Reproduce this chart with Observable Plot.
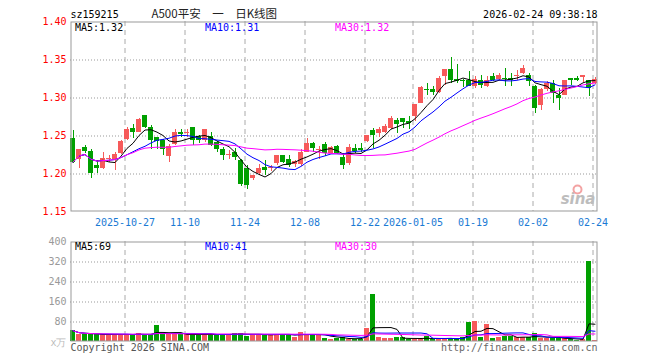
<!DOCTYPE html>
<html><head><meta charset="utf-8">
<script src="https://cdn.jsdelivr.net/npm/d3@7"></script>
<script src="https://cdn.jsdelivr.net/npm/@observablehq/plot@0.6"></script>
<style>
html,body{margin:0;padding:0;background:#fff;}
#wrap{position:relative;width:660px;height:360px;overflow:hidden;background:#fff;}
#wrap svg{position:absolute;left:0;}
</style></head><body><div id="wrap"></div>
<script>
const dates = [
"2025-10-14","2025-10-15","2025-10-16","2025-10-17",
"2025-10-20","2025-10-21","2025-10-22","2025-10-23","2025-10-24",
"2025-10-27","2025-10-28","2025-10-29","2025-10-30","2025-10-31",
"2025-11-03","2025-11-04","2025-11-05","2025-11-06","2025-11-07",
"2025-11-10","2025-11-11","2025-11-12","2025-11-13","2025-11-14",
"2025-11-17","2025-11-18","2025-11-19","2025-11-20","2025-11-21",
"2025-11-24","2025-11-25","2025-11-26","2025-11-27","2025-11-28",
"2025-12-01","2025-12-02","2025-12-03","2025-12-04","2025-12-05",
"2025-12-08","2025-12-09","2025-12-10","2025-12-11","2025-12-12",
"2025-12-15","2025-12-16","2025-12-17","2025-12-18","2025-12-19",
"2025-12-22","2025-12-23","2025-12-24","2025-12-25","2025-12-26",
"2025-12-29","2025-12-30","2025-12-31",
"2026-01-05","2026-01-06","2026-01-07","2026-01-08","2026-01-09",
"2026-01-12","2026-01-13","2026-01-14","2026-01-15","2026-01-16",
"2026-01-19","2026-01-20","2026-01-21","2026-01-22","2026-01-23",
"2026-01-26","2026-01-27","2026-01-28","2026-01-29","2026-01-30",
"2026-02-02","2026-02-03","2026-02-04","2026-02-05","2026-02-06",
"2026-02-09","2026-02-10","2026-02-11","2026-02-12","2026-02-13",
"2026-02-24"];
const open = [
1.246,1.218,1.234,1.229,1.211,1.207,1.219,1.219,1.226,1.245,
1.259,1.254,1.276,1.261,1.247,1.244,1.222,1.238,1.254,1.253,
1.261,1.249,1.244,1.249,1.241,1.232,1.2245,1.228,1.217,1.206,
1.193,1.200,1.208,1.2075,1.213,1.224,1.218,1.212,1.212,1.228,
1.239,1.2305,1.238,1.226,1.235,1.221,1.213,1.233,1.2325,1.242,
1.256,1.252,1.254,1.259,1.270,1.273,1.269,1.275,1.292,1.3105,
1.310,1.306,1.327,1.337,1.324,1.323,1.323,1.314,1.323,1.314,
1.328,1.324,1.3255,1.325,1.3285,1.332,1.329,1.314,1.290,1.310,
1.318,1.303,1.303,1.3245,1.3245,1.327,1.323,1.318];
const high = [
1.257,1.231,1.237,1.231,1.217,1.227,1.224,1.228,1.243,1.261,
1.265,1.272,1.276,1.263,1.248,1.245,1.238,1.258,1.258,1.258,
1.261,1.250,1.258,1.254,1.242,1.234,1.230,1.233,1.219,1.211,
1.198,1.212,1.217,1.210,1.224,1.224,1.224,1.217,1.231,1.246,
1.241,1.236,1.241,1.235,1.237,1.226,1.238,1.238,1.239,1.250,
1.259,1.261,1.264,1.275,1.272,1.273,1.275,1.291,1.314,1.318,
1.314,1.327,1.337,1.353,1.344,1.324,1.334,1.327,1.329,1.327,
1.332,1.331,1.338,1.331,1.335,1.342,1.331,1.316,1.312,1.321,
1.322,1.312,1.323,1.3245,1.327,1.3285,1.323,1.326];
const low = [
1.213,1.207,1.226,1.194,1.200,1.205,1.215,1.204,1.225,1.243,
1.246,1.254,1.259,1.232,1.231,1.224,1.214,1.237,1.248,1.248,
1.237,1.240,1.241,1.236,1.228,1.217,1.219,1.217,1.183,1.179,
1.191,1.198,1.197,1.202,1.211,1.213,1.208,1.208,1.209,1.227,
1.228,1.219,1.222,1.225,1.225,1.205,1.211,1.226,1.228,1.241,
1.233,1.247,1.253,1.258,1.253,1.259,1.258,1.268,1.292,1.303,
1.302,1.305,1.316,1.318,1.318,1.313,1.314,1.312,1.312,1.313,
1.321,1.323,1.314,1.314,1.322,1.330,1.314,1.279,1.283,1.308,
1.292,1.283,1.302,1.316,1.321,1.320,1.301,1.317];
const close = [
1.215,1.231,1.229,1.200,1.207,1.220,1.220,1.225,1.242,1.258,
1.254,1.271,1.261,1.244,1.242,1.232,1.235,1.254,1.251,1.254,
1.244,1.243,1.258,1.237,1.232,1.224,1.2255,1.221,1.186,1.184,
1.197,1.206,1.204,1.2085,1.224,1.215,1.211,1.216,1.228,1.239,
1.233,1.2315,1.226,1.234,1.226,1.211,1.234,1.229,1.2315,1.250,
1.250,1.258,1.262,1.272,1.264,1.267,1.266,1.291,1.313,1.3095,
1.307,1.325,1.337,1.323,1.321,1.322,1.315,1.3237,1.316,1.322,
1.323,1.329,1.3245,1.322,1.3295,1.338,1.321,1.286,1.310,1.319,
1.305,1.299,1.322,1.3235,1.3235,1.3285,1.312,1.324];
const volume = [
43,28,28,28,28,28,28,28,28,28,
28,34,25,28,66,28,28,28,28,28,
28,28,28,28,28,28,28,34,34,21,
28,28,28,28,28,28,28,18,37,28,
28,28,14,9,12,15,10,10,10,52,
190,15,11,11,15,15,10,10,10,20,
10,10,10,12,12,17,78,81,17,69,
12,15,19,19,17,17,15,31,13,13,
13,13,13,7,5,7,321,5];

const tickDates = ["2025-10-27","2025-11-10","2025-11-24","2025-12-08","2025-12-22","2026-01-05","2026-01-19","2026-02-02","2026-02-24"];
const tickLabels = ["2025-10-27","11-10","11-24","12-08","12-22","2026-01-05","01-19","02-02","02-24"];
const priceTicks = [1.15,1.20,1.25,1.30,1.35,1.40];
const volTicks = [80,160,240,320,400];
const symbol = "sz159215";
const title = "A500平安　一　日K线图";
const stamp = "2026-02-24 09:38:18";
const priceMaLabels = ["MA5:1.32","MA10:1.31","MA30:1.32"];
const volMaLabels = ["MA5:69","MA10:41","MA30:30"];
const volUnit = "x万";
const copyright = "Copyright 2026 SINA.COM";
const site = "http://finance.sina.com.cn";

const RED = "#f65a5a", GREEN = "#00a000";
const MA_COLORS = ["#000000","#0000ff","#ff00ff"];
const MA_K = [5,10,30];
const LABEL_DX = [4.5,134.5,264.5];

const rows = dates.map((d,i) => ({i, date:d, open:open[i], high:high[i], low:low[i], close:close[i], volume:volume[i]}));
const col = d => d.close >= d.open ? RED : GREEN;
const W = 5/12;
const gx = tickDates.map(d => dates.indexOf(d) - 1/3);
const labelOf = new Map(gx.map((v,k) => [v, tickLabels[k]]));
const xDomain = [-W, dates.length - 1 + W];
const FONT = "DejaVu Sans Mono, monospace";

function maLines(field) {
  return MA_K.map((k,j) => Plot.lineY(rows, Plot.windowY({k, anchor:"end"}, {x:"i", y:field, stroke:MA_COLORS[j], strokeWidth:1})));
}
function maTexts(labels, dy) {
  return labels.map((t,j) => Plot.text([t], {text:d=>d, frameAnchor:"top-left", textAnchor:"start", lineAnchor:"bottom", dx:LABEL_DX[j], dy, fill:MA_COLORS[j]}));
}

const price = Plot.plot({
  width:660, height:232, marginLeft:70, marginRight:63, marginTop:21, marginBottom:21,
  style:{fontFamily:FONT, fontSize:"10px", background:"transparent", overflow:"visible"},
  x:{domain:xDomain, axis:null},
  y:{domain:[1.15,1.40], axis:null},
  color:{type:"identity"},
  marks:[
    Plot.ruleY(priceTicks.slice(1,-1), {stroke:"#999", strokeDasharray:"1,2", dy:0.5}),
    Plot.ruleX(gx, {stroke:"#aaa", strokeDasharray:"5,4"}),
    Plot.text(["sina"], {text:d=>d, frameAnchor:"bottom-right", textAnchor:"end", lineAnchor:"bottom", dx:-2, dy:-8, fill:"#bdbdbd", fontSize:15, fontWeight:"bold", fontStyle:"italic", fontFamily:"DejaVu Sans"}),
    Plot.dot([0], {frameAnchor:"bottom-right", dx:-20, dy:-22, r:4, stroke:"#f3a3a3", strokeWidth:2, fill:"none"}),
    Plot.ruleX(rows, {x:"i", y1:"low", y2:"high", stroke:col, shapeRendering:"crispEdges"}),
    Plot.rect(rows, {x1:d=>d.i-W, x2:d=>d.i+W, y1:"open", y2:"close", fill:col, shapeRendering:"crispEdges"}),
    Plot.ruleY(rows, {x1:d=>d.i-W, x2:d=>d.i+W, y:d=>(d.open+d.close)/2, stroke:col, shapeRendering:"crispEdges"}),
    ...maLines("close"),
    Plot.frame({stroke:"#999", insetLeft:0.5, insetTop:0.5, insetRight:0.5, insetBottom:0.5}),
    Plot.axisY(priceTicks, {tickSize:0, tickPadding:4, tickFormat:d=>d.toFixed(2), fill:"#ff0000", label:null}),
    Plot.axisX(gx, {tickSize:0, tickPadding:7, tickFormat:v=>labelOf.get(v), fill:"#1a7ad4", label:null}),
    Plot.text([symbol], {text:d=>d, frameAnchor:"top-left", textAnchor:"start", lineAnchor:"bottom", dy:-4, fill:"#000"}),
    Plot.text([title], {text:d=>d, frameAnchor:"top-left", textAnchor:"start", lineAnchor:"bottom", dx:81, dy:-4, fill:"#222", fontFamily:"Noto Sans CJK SC", fontSize:11.5}),
    Plot.text([stamp], {text:d=>d, frameAnchor:"top-right", textAnchor:"end", lineAnchor:"bottom", dy:-4, fill:"#000"}),
    ...maTexts(priceMaLabels, 9)
  ]
});

const vol = Plot.plot({
  width:660, height:130, marginLeft:70, marginRight:63, marginTop:11, marginBottom:19,
  style:{fontFamily:FONT, fontSize:"10px", background:"transparent", overflow:"visible"},
  x:{domain:xDomain, axis:null},
  y:{domain:[0,400], axis:null},
  color:{type:"identity"},
  marks:[
    Plot.ruleY(volTicks.slice(0,-1), {stroke:"#999", strokeDasharray:"1,2", dy:0.5}),
    Plot.ruleX(gx, {stroke:"#aaa", strokeDasharray:"5,4"}),
    Plot.rect(rows, {x1:d=>d.i-W, x2:d=>d.i+W, y1:0, y2:"volume", fill:col, shapeRendering:"crispEdges"}),
    ...maLines("volume"),
    Plot.frame({stroke:"#999", insetLeft:0.5, insetTop:0.5, insetRight:0.5, insetBottom:0.5}),
    Plot.axisY(volTicks, {tickSize:0, tickPadding:4, fill:"#999", label:null}),
    Plot.text([volUnit], {text:d=>d, frameAnchor:"bottom-left", textAnchor:"end", lineAnchor:"bottom", dx:-4, dy:4, fill:"#bbb"}),
    Plot.text([copyright], {text:d=>d, frameAnchor:"bottom-left", textAnchor:"start", lineAnchor:"bottom", dy:9, fill:"#555"}),
    Plot.text([site], {text:d=>d, frameAnchor:"bottom-right", textAnchor:"end", lineAnchor:"bottom", dy:9, fill:"#666"}),
    ...maTexts(volMaLabels, 8.5)
  ]
});

const wrap = document.getElementById("wrap");
price.style.top = "0px";
vol.style.top = "230px";
wrap.appendChild(price);
wrap.appendChild(vol);
</script></body></html>
